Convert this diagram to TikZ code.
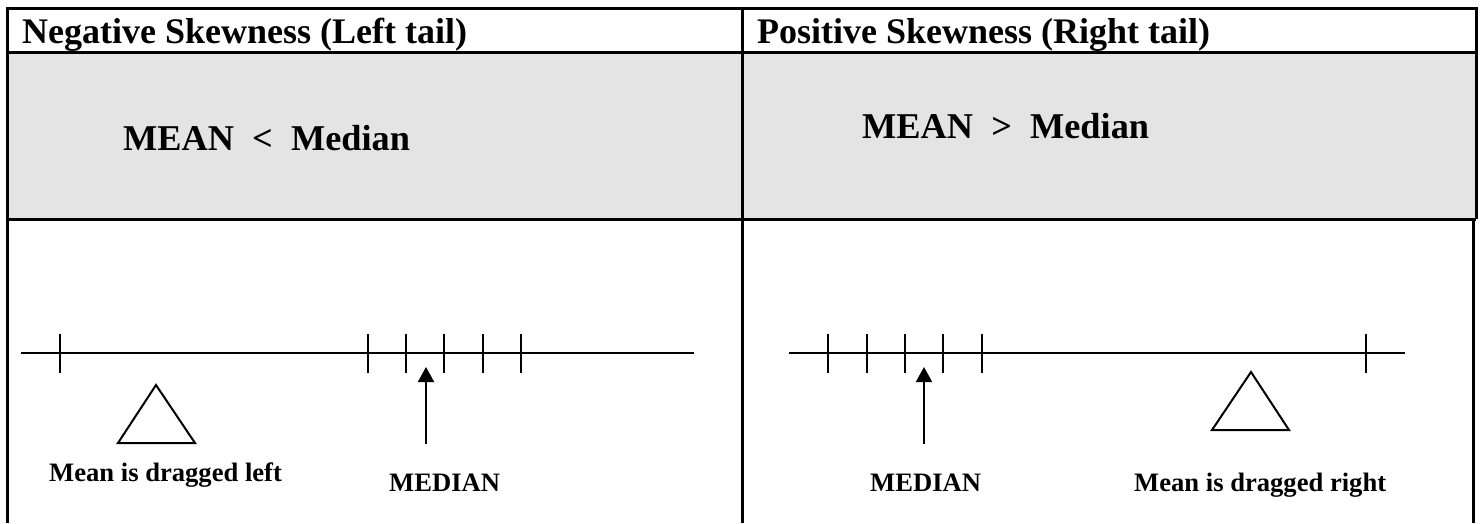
\documentclass[tikz,border=0pt]{standalone}
\usepackage{fontspec}
\setmainfont{Liberation Serif}
\usetikzlibrary{arrows.meta}
\definecolor{cellgray}{RGB}{228,228,228}
\begin{document}
\begin{tikzpicture}[x=1pt,y=-1pt,
  grid/.style={line width=3pt},
  axisline/.style={line width=2pt},
  tickmark/.style={line width=2pt},
  tri/.style={line width=2pt, line join=miter},
  ptr/.style={line width=2pt, -{Triangle[width=16pt,length=15pt]}},
  head/.style={font=\fontsize{36}{40}\selectfont\bfseries, anchor=base west, inner sep=0pt},
  rel/.style={font=\fontsize{36.3}{40}\selectfont\bfseries, anchor=base west, inner sep=0pt},
  lab/.style={font=\fontsize{26.6}{30}\selectfont\bfseries, anchor=base west, inner sep=0pt}]
\useasboundingbox (0,0) rectangle (1481,523);
% table
\fill[cellgray] (7,52) rectangle (1476,219);
\draw[grid] (7,523) -- (7,8) -- (1476,8) -- (1476,219);
\draw[grid] (1473,219) -- (1473,523);
\draw[grid] (7,52) -- (1476,52);
\draw[grid] (7,219) -- (1476,219);
\draw[grid] (742,8) -- (742,523);
% headers
\node[head] (hl) at (22,43) {Negative Skewness (Left tail)};
\node[head] (hr) at (757,43) {Positive Skewness (Right tail)};
\node[rel] (rl) at (123,150) {MEAN\ \ <\ \ Median};
\node[rel] (rr) at (862,138) {MEAN\ \ >\ \ Median};
% left axis
\draw[axisline] (21,353) -- (694,353);
\foreach \t in {60,368,406,444,483,521} \draw[tickmark] (\t,334) -- (\t,373);
\draw[tri] (156,385) -- (195,443) -- (118,443) -- cycle;
\coordinate (la0) at (426,444);
\coordinate (la1) at (426,367);
\draw[ptr] (la0) -- (la1);
\node[lab] (ml) at (49,481) {Mean is dragged left};
\node[lab] (mdl) at (389,491) {MEDIAN};
% right axis
\draw[axisline] (789,353) -- (1405,353);
\foreach \t in {828,867,905,943,982,1366} \draw[tickmark] (\t,334) -- (\t,373);
\draw[tri] (1251,372) -- (1289,430) -- (1212,430) -- cycle;
\coordinate (ra0) at (924,444);
\coordinate (ra1) at (924,367);
\draw[ptr] (ra0) -- (ra1);
\node[lab] (mdr) at (870,491) {MEDIAN};
\node[lab] (mr) at (1134,491) {Mean is dragged right};
\end{tikzpicture}
\end{document}
